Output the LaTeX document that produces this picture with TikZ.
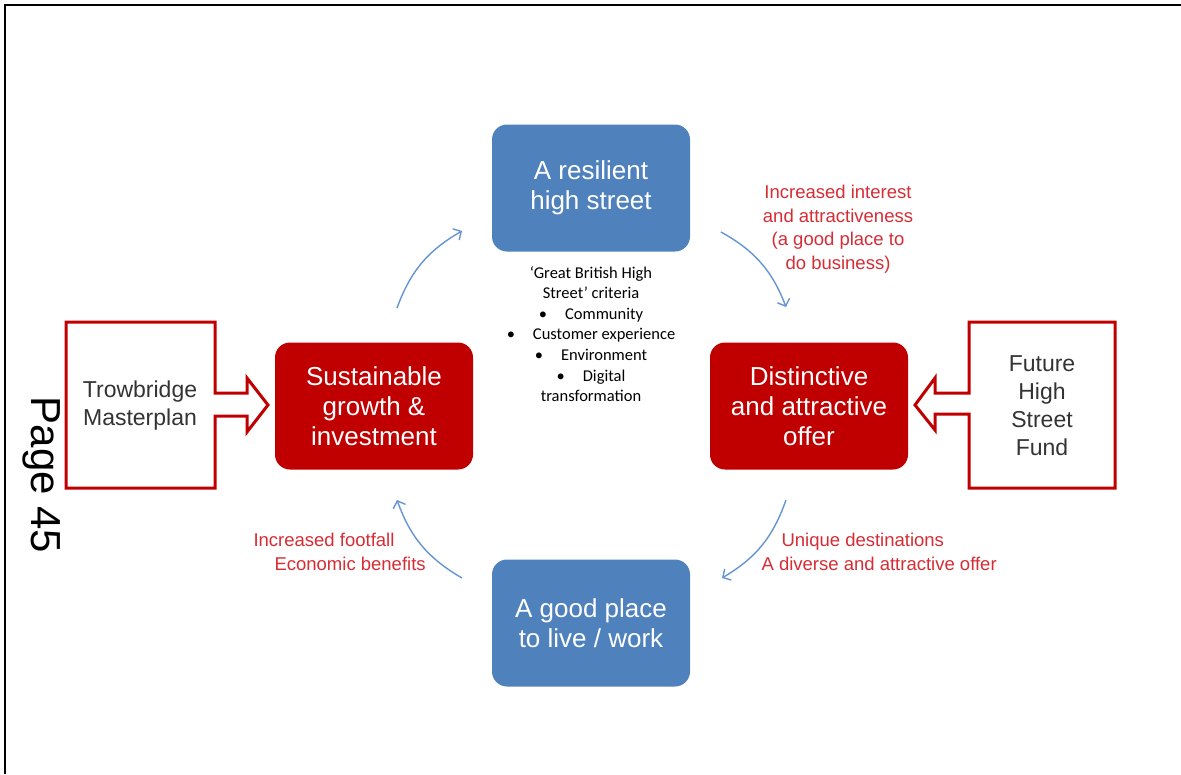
\documentclass[tikz,border=0pt]{standalone}
\usepackage{fontspec}
\setmainfont{Liberation Sans}
\newfontfamily\calibri{Carlito}
\usetikzlibrary{arrows.meta}

\definecolor{boxblue}{RGB}{79,129,189}
\definecolor{boxred}{RGB}{192,0,0}
\definecolor{labelred}{RGB}{214,44,52}
\definecolor{arrowblue}{RGB}{100,149,210}

\def\boxw{198pt}
\def\boxh{127pt}

\begin{document}
\begin{tikzpicture}[x=1pt,y=-1pt,line join=miter]
    \tikzstyle{box}=[rounded corners=15pt,minimum width=\boxw,minimum height=\boxh,text=white,align=center,font=\fontsize{26}{30}\selectfont]
    \tikzstyle{blue box}=[box,fill=boxblue];
    \tikzstyle{red box}=[box,fill=boxred];
    \tikzstyle{outline}=[draw=boxred,line width=3pt];
    \tikzstyle{side text}=[align=center,text=black!80,font=\fontsize{23}{28}\selectfont]
    \tikzstyle{loop arrow}=[draw=arrowblue,line width=1.4pt,-{Straight Barb[length=6pt,width=13pt]},bend left=20]
    \tikzstyle{annot}=[text=labelred,font=\fontsize{18.5}{23.5}\selectfont]

    \useasboundingbox (0,0) rectangle (1181,774);

    % Page frame
    \draw[line width=2pt] (1181,4.5) -- (5,4.5) -- (5,774);

    % Page number
    \node[rotate=-90,font=\fontsize{42}{50}\selectfont] (page) at (42,475) {Page 45};

    % The four boxes of the cycle
    \node[blue box] (resilient) at (591,188) {A resilient\\high street};
    \node[red box] (offer) at (809,406) {Distinctive\\and attractive\\offer};
    \node[blue box] (place) at (591,623) {A good place\\to live / work};
    \node[red box] (growth) at (374,406) {Sustainable\\growth \&\\investment};

    % Inputs on either side
    \draw[outline] (66,322) -- (215,322) -- (215,393) -- (247,393) -- (247,378)
        -- (268,405) -- (247,432) -- (247,416) -- (215,416) -- (215,488)
        -- (66,488) -- cycle;
    \node[side text] (master) at (140,406) {Trowbridge\\Masterplan};

    \draw[outline] (1115,322) -- (969,322) -- (969,393) -- (935,393) -- (935,378)
        -- (915,405) -- (935,430) -- (935,414) -- (969,414) -- (969,488)
        -- (1115,488) -- cycle;
    \node[side text] (fund) at (1042,406) {Future\\High\\Street\\Fund};

    % Criteria in the middle
    \node[align=center,font=\calibri\fontsize{16.5}{20.6}\selectfont] (criteria) at (591,334)
        {‘Great British High\\Street’ criteria\\
         \textbullet\hspace{18pt}Community\\
         \textbullet\hspace{18pt}Customer experience\\
         \textbullet\hspace{18pt}Environment\\
         \textbullet\hspace{18pt}Digital\\
         transformation};

    % Ends of the curved arrows
    \coordinate (a1) at (397,308);
    \coordinate (b1) at (462,231);
    \coordinate (a2) at (721,232);
    \coordinate (b2) at (786,307);
    \coordinate (a3) at (786,500);
    \coordinate (b3) at (722,578);
    \coordinate (a4) at (462,578);
    \coordinate (b4) at (397,500);

    \path (a1) edge[loop arrow] (b1);
    \path (a2) edge[loop arrow] (b2);
    \path (a3) edge[loop arrow] (b3);
    \path (a4) edge[loop arrow] (b4);

    % Labels of the arrows
    \node[annot,align=center] (interest) at (838,229)
        {Increased interest\\and attractiveness\\(a good place to\\do business)};
    \node[annot,align=left,anchor=north west] (unique) at (758,530)
        {\hspace*{20pt}Unique destinations\\A diverse and attractive offer};
    \node[annot,align=left,anchor=north west] (footfall) at (250,530)
        {Increased footfall\\\hspace*{21pt}Economic benefits};
\end{tikzpicture}
\end{document}
